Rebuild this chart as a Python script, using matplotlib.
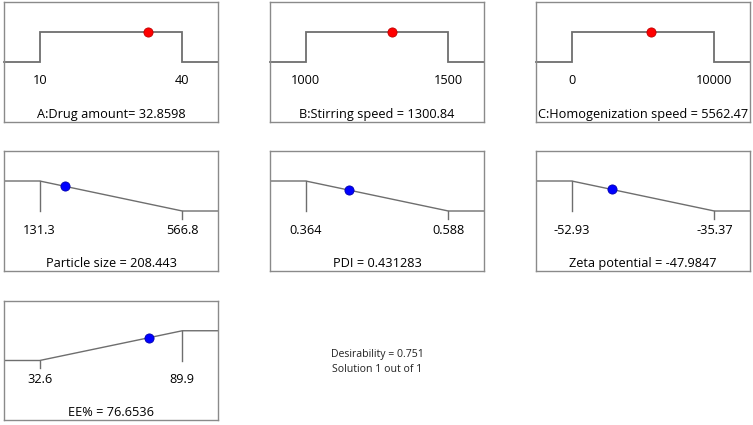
import numpy as np
import matplotlib
matplotlib.use("Agg")
import matplotlib.pyplot as plt

plt.rcParams['font.family'] = ['Open Sans', 'DejaVu Sans']

# Factors (range low/high, optimum value)
factor_names = ["A:Drug amount=", "B:Stirring speed =", "C:Homogenization speed ="]
factor_low = [10, 1000, 0]
factor_high = [40, 1500, 10000]
factor_value = [32.8598, 1300.84, 5562.47]
factor_value_txt = ["32.8598", "1300.84", "5562.47"]
factor_low_txt = ["10", "1000", "0"]
factor_high_txt = ["40", "1500", "10000"]

# Responses
resp_names = ["Particle size =", "PDI =", "Zeta potential =", "EE% ="]
resp_low = [131.3, 0.364, -52.93, 32.6]
resp_high = [566.8, 0.588, -35.37, 89.9]
resp_value = [208.443, 0.431283, -47.9847, 76.6536]
resp_value_txt = ["208.443", "0.431283", "-47.9847", "76.6536"]
resp_low_txt = ["131.3", "0.364", "-52.93", "32.6"]
resp_high_txt = ["566.8", "0.588", "-35.37", "89.9"]
resp_goal = ["min", "min", "min", "max"]

desirability = 0.751
solution_txt = "Solution 1 out of 1"

W, H = 753, 425
fig = plt.figure(figsize=(W / 100, H / 100), dpi=100)

col_x = [4, 270, 536]
row_y = [(2, 122), (151, 271), (301, 420)]
box_w = 214

LINE = '#6e6e6e'
EDGE = '#8a8a8a'
FS = 9.2


def make_ax(col, row):
    x0 = col_x[col]
    yt, yb = row_y[row]
    ax = fig.add_axes([x0 / W, 1 - yb / H, box_w / W, (yb - yt) / H])
    ax.set_ylim(0, 1)
    ax.set_xticks([])
    ax.set_yticks([])
    for s in ax.spines.values():
        s.set_color(EDGE)
        s.set_linewidth(1.0)
    return ax


LO, HI = 0.5, 0.75

# Factor panels
for i in range(3):
    ax = make_ax(i, 0)
    lo, hi = factor_low[i], factor_high[i]
    r = hi - lo
    xl, xr = lo - 0.25 * r, hi + 0.25 * r
    ax.set_xlim(xl, xr)
    ax.plot([xl, lo, lo, hi, hi, xr], [LO, LO, HI, HI, LO, LO],
            color=LINE, lw=1.3, solid_joinstyle='miter', clip_on=False)
    ax.plot([factor_value[i]], [HI], 'o', ms=6.6, mfc='#ff0000', mec='#c00000',
            mew=0.6, zorder=5)
    ax.text(lo, 0.35, factor_low_txt[i], ha='center', va='center', fontsize=FS)
    ax.text(hi, 0.35, factor_high_txt[i], ha='center', va='center', fontsize=FS)
    ax.text(0.5, 0.065, f"{factor_names[i]} {factor_value_txt[i]}",
            transform=ax.transAxes, ha='center', va='center', fontsize=FS)

# Response panels
pos = [(0, 1), (1, 1), (2, 1), (0, 2)]
for j in range(4):
    c, rw = pos[j]
    ax = make_ax(c, rw)
    lo, hi = resp_low[j], resp_high[j]
    r = hi - lo
    xl, xr = lo - 0.25 * r, hi + 0.25 * r
    ax.set_xlim(xl, xr)
    if resp_goal[j] == "min":
        ys = [HI, HI, LO, LO]
        ax.plot([lo, lo], [HI, LO], color=LINE, lw=1.0)
        ax.plot([hi, hi], [LO, 0.435], color=LINE, lw=1.0)
    else:
        ys = [LO, LO, HI, HI]
        ax.plot([lo, lo], [LO, 0.435], color=LINE, lw=1.0)
        ax.plot([hi, hi], [HI, LO], color=LINE, lw=1.0)
    xs = [xl, lo, hi, xr]
    ax.plot(xs, ys, color=LINE, lw=1.0)
    yv = np.interp(resp_value[j], xs, ys)
    ax.plot([resp_value[j]], [yv], 'o', ms=6.6, mfc='#0000ff', mec='#0000b0',
            mew=0.6, zorder=5)
    ax.text(lo, 0.34, resp_low_txt[j], ha='center', va='center', fontsize=FS)
    ax.text(hi, 0.34, resp_high_txt[j], ha='center', va='center', fontsize=FS)
    ax.text(0.5, 0.06, f"{resp_names[j]} {resp_value_txt[j]}",
            transform=ax.transAxes, ha='center', va='center', fontsize=FS)

fig.text(377 / W, 1 - 354 / H, f"Desirability = {desirability}", ha='center',
         va='center', fontsize=7.6, color='#222222')
fig.text(377 / W, 1 - 369 / H, solution_txt, ha='center', va='center',
         fontsize=7.6, color='#222222')

fig.savefig("out.png", dpi=100, facecolor='white')
